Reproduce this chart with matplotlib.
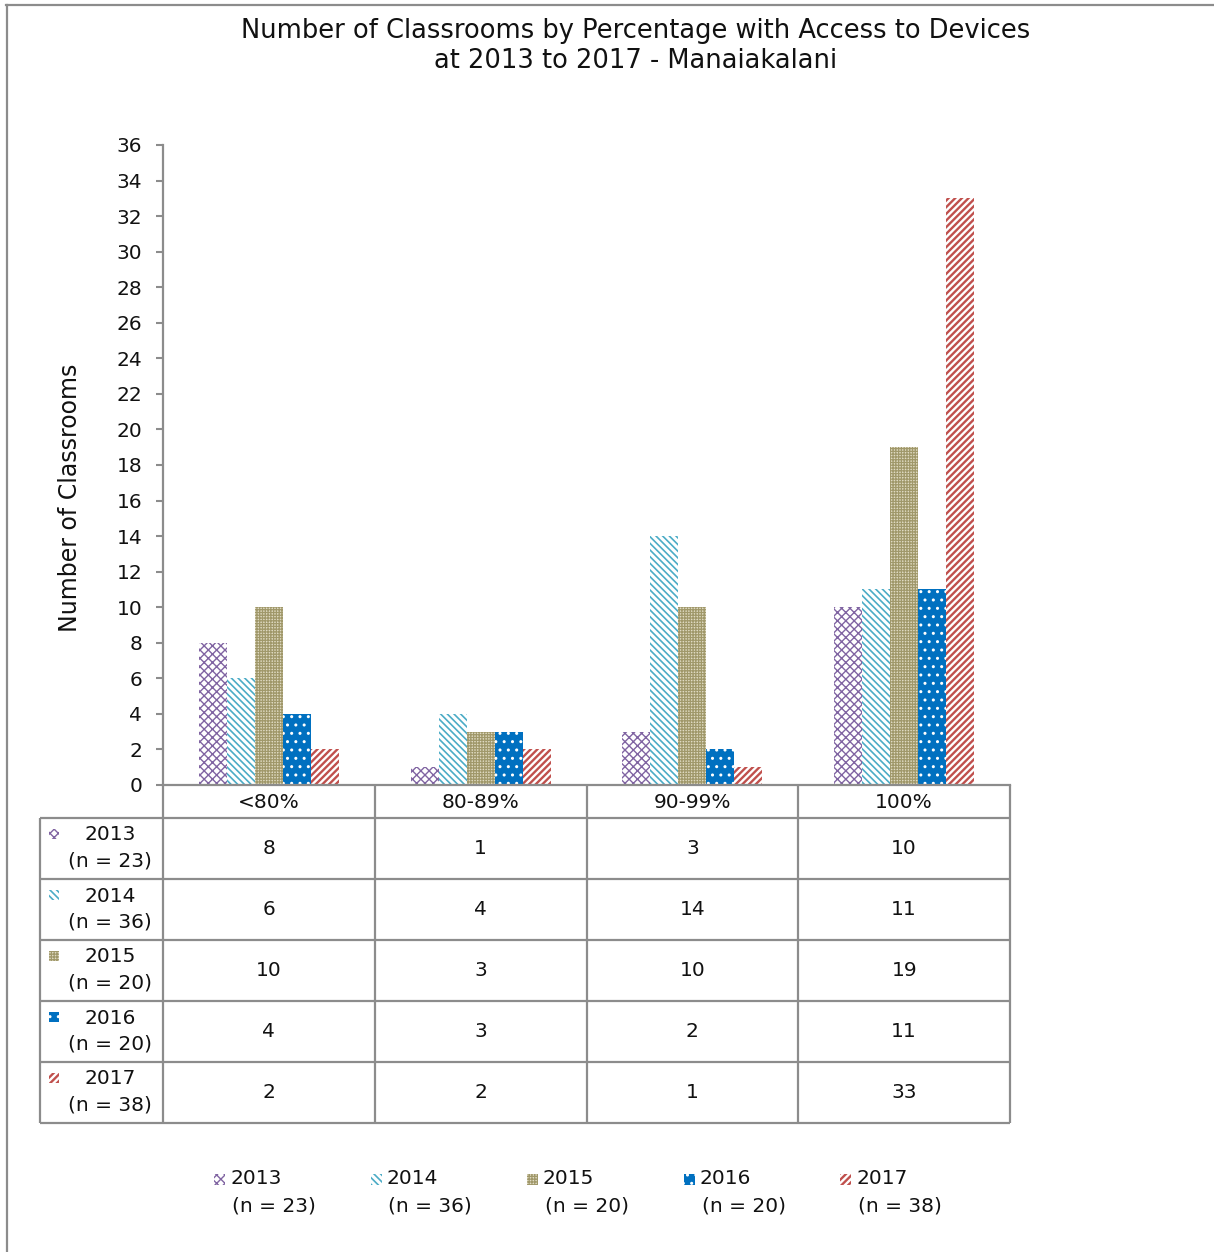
import matplotlib
matplotlib.use("Agg")
import matplotlib.pyplot as plt
import numpy as np
from matplotlib.patches import Rectangle
from matplotlib.lines import Line2D

# ---------------- data ----------------
categories = ["<80%", "80-89%", "90-99%", "100%"]
series_years = ["2013", "2014", "2015", "2016", "2017"]
series_n = ["(n = 23)", "(n = 36)", "(n = 20)", "(n = 20)", "(n = 38)"]
v2013 = [8, 1, 3, 10]
v2014 = [6, 4, 14, 11]
v2015 = [10, 3, 10, 19]
v2016 = [4, 3, 2, 11]
v2017 = [2, 2, 1, 33]
values = [v2013, v2014, v2015, v2016, v2017]
y_ticks = list(range(0, 37, 2))
title = "Number of Classrooms by Percentage with Access to Devices\nat 2013 to 2017 - Manaiakalani"
ylabel = "Number of Classrooms"

# ---------------- styles ----------------
styles = [
    dict(facecolor="white", edgecolor="#8064a2", hatch="xxxx"),
    dict(facecolor="white", edgecolor="#4bacc6", hatch="\\\\\\\\\\"),
    dict(facecolor="#e0dbc3", edgecolor="#a0986a", hatch="++++++"),
    dict(facecolor="#0070c0", edgecolor="white", hatch=".."),
    dict(facecolor="white", edgecolor="#c0504d", hatch="/////"),
]
hatch_lw = [1.0, 1.2, 0.9, 1.0, 1.7]
plt.rcParams["font.family"] = ["DejaVu Sans"]
GRAY = "#8c8c8c"
TXT = "#111111"

W, H = 1214, 1252
fig = plt.figure(figsize=(W / 100, H / 100), dpi=100)

def fx(x):
    return x / W

def fy(y):
    return 1 - y / H

def set_hlw(p, lw):
    if hasattr(p, "set_hatch_linewidth"):
        p.set_hatch_linewidth(lw)

# outer frame
fig.add_artist(Line2D([fx(7), fx(7)], [fy(5), fy(1260)], color=GRAY, lw=1.6))
fig.add_artist(Line2D([fx(6), fx(1220)], [fy(5), fy(5)], color=GRAY, lw=1.6))

# title and ylabel
fig.text(fx(636), fy(46), title, ha="center", va="center", fontsize=18.5,
         linespacing=1.25, color=TXT)
fig.text(fx(70), fy(498), ylabel, ha="center", va="center", rotation=90,
         fontsize=17, color=TXT)

# ---------------- main axes ----------------
L, R, T, B = 163, 1010, 145, 785
ax = fig.add_axes([fx(L), fy(B), (R - L) / W, (B - T) / H])
x = np.arange(len(categories))
bw = 28 / ((R - L) / 4)
for i, (vals, st) in enumerate(zip(values, styles)):
    with plt.rc_context({"hatch.linewidth": hatch_lw[i]}):
        bars = ax.bar(x + (i - 2) * bw, vals, width=bw, linewidth=0, **st)
    for b in bars:
        set_hlw(b, hatch_lw[i])
ax.set_xlim(-0.5, len(categories) - 0.5)
ax.set_ylim(0, 36)
ax.set_yticks(y_ticks)
ax.set_xticks([])
for s in ["top", "right"]:
    ax.spines[s].set_visible(False)
for s in ["left", "bottom"]:
    ax.spines[s].set_color(GRAY)
    ax.spines[s].set_linewidth(1.6)
ax.tick_params(axis="y", direction="out", length=5, width=1.5, color=GRAY,
               pad=10, labelsize=14.5, labelcolor=TXT)
ax.patch.set_alpha(0)

# ---------------- data table ----------------
TL = 40
hdr_top, hdr_bot = 785, 818
row_h = 61
tab = fig.add_axes([0, 0, 1, 1])
tab.set_xlim(0, W)
tab.set_ylim(H, 0)
tab.axis("off")
tab.patch.set_alpha(0)

FS = 14.5
col_edges = [L + k * (R - L) / 4 for k in range(5)]
n_rows = len(series_years)
bottom = hdr_bot + n_rows * row_h
lk = dict(color=GRAY, lw=1.6, solid_capstyle="butt")
for ce in col_edges:
    tab.plot([ce, ce], [hdr_top, bottom], **lk)
tab.plot([TL, TL], [hdr_bot, bottom], **lk)
for r in range(n_rows + 1):
    yy = hdr_bot + r * row_h
    tab.plot([TL, R], [yy, yy], **lk)

for c, cat in enumerate(categories):
    cx = (col_edges[c] + col_edges[c + 1]) / 2
    tab.text(cx, (hdr_top + hdr_bot) / 2 + 1, cat, ha="center", va="center",
             fontsize=FS, color=TXT)

for r in range(n_rows):
    y0 = hdr_bot + r * row_h
    with plt.rc_context({"hatch.linewidth": hatch_lw[r]}):
        p = tab.add_patch(Rectangle((49, y0 + 11), 10, 10, linewidth=0, **styles[r]))
    set_hlw(p, hatch_lw[r])
    tab.text(110, y0 + 17, series_years[r], ha="center", va="center",
             fontsize=FS, color=TXT)
    tab.text(110, y0 + 43, series_n[r], ha="center", va="center",
             fontsize=FS, color=TXT)
    for c in range(len(categories)):
        cx = (col_edges[c] + col_edges[c + 1]) / 2
        tab.text(cx, y0 + row_h / 2, str(values[r][c]), ha="center",
                 va="center", fontsize=FS, color=TXT)

# ---------------- legend ----------------
for i in range(n_rows):
    lx = 214 + i * 156.5
    with plt.rc_context({"hatch.linewidth": hatch_lw[i]}):
        p = tab.add_patch(Rectangle((lx, 1174), 11, 11, linewidth=0, **styles[i]))
    set_hlw(p, hatch_lw[i])
    tab.text(lx + 16, 1179, series_years[i], ha="left", va="center",
             fontsize=FS, color=TXT)
    tab.text(lx + 18, 1206, series_n[i], ha="left", va="center",
             fontsize=FS, color=TXT)

fig.savefig("out.png", dpi=100)
